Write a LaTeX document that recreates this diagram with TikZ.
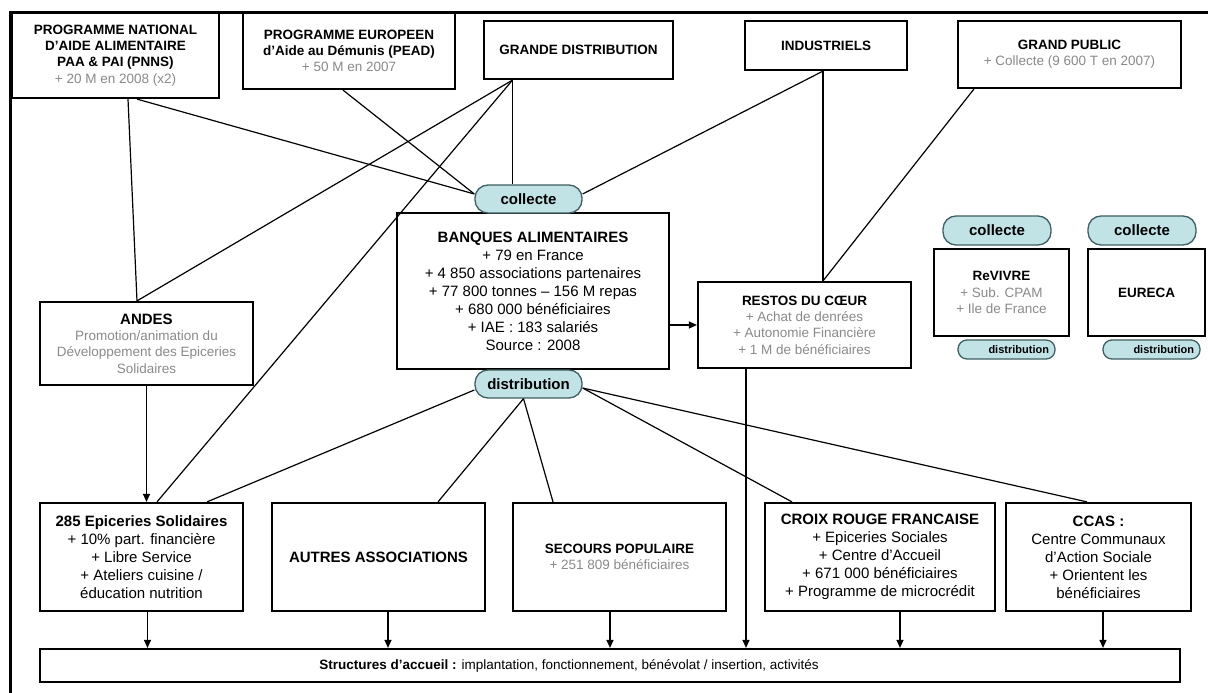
\documentclass[tikz,border=0pt]{standalone}
\usepackage{fontspec}
\setmainfont{Liberation Sans}
\usetikzlibrary{arrows.meta,calc}

\definecolor{pillfill}{HTML}{C2E3E6}
\definecolor{pilldraw}{HTML}{3F5F62}
\definecolor{subgray}{HTML}{8A8A8A}
\newcommand{\gristxt}[1]{\textcolor{subgray}{#1}}

\begin{document}
\begin{tikzpicture}[x=1pt,y=-1pt,
    box/.style={draw=black,line width=2.2pt,fill=white,inner sep=0pt,align=center},
    pill/.style={draw=pilldraw,fill=pillfill,line width=1.3pt,rounded corners=13pt,inner sep=0pt,
        minimum width=107pt,minimum height=28pt,font=\fontsize{15}{18}\selectfont\bfseries},
    minipill/.style={draw=pilldraw,fill=pillfill,line width=1.3pt,rounded corners=9pt,inner sep=0pt,
        minimum width=97pt,minimum height=19pt,text width=85pt,align=right,font=\fontsize{11}{13}\selectfont\bfseries},
    small/.style={font=\fontsize{13.5}{16.3}\selectfont},
    large/.style={font=\fontsize{15}{18}\selectfont},
    link/.style={line width=1.2pt},
    feed/.style={line width=1.2pt,-{Triangle[length=8pt,width=7pt]}}]
    \useasboundingbox (0,0) rectangle (1208,693);
    \fill[white] (0,0) rectangle (1208,693);
    \draw[line width=3pt] (10,693) -- (10,13) -- (1208,13); % frame

    % sources
    \node[box,small,minimum width=207pt,minimum height=85pt] (pnaa) at (115.5,55.5)
        {\textbf{PROGRAMME NATIONAL}\\\textbf{D'AIDE ALIMENTAIRE}\\\textbf{PAA \& PAI (PNNS)}\\\gristxt{+ 20 M en 2008 (x2)}};
    \node[box,small,minimum width=212pt,minimum height=76pt] (pead) at (349,51)
        {\textbf{PROGRAMME EUROPEEN}\\\textbf{d'Aide au Démunis (PEAD)}\\\gristxt{+ 50 M en 2007}};
    \node[box,small,minimum width=189pt,minimum height=58pt] (gdist) at (578.5,50) {\textbf{GRANDE DISTRIBUTION}};
    \node[box,small,minimum width=162pt,minimum height=49pt] (indus) at (826,45.5) {\textbf{INDUSTRIELS}};
    \node[box,small,minimum width=223pt,minimum height=67pt] (gpub) at (1069.5,54.5)
        {\textbf{GRAND PUBLIC}\\\gristxt{+ Collecte (9 600 T en 2007)}};

    % banques alimentaires
    \node[box,large,minimum width=272pt,minimum height=156pt] (banques) at (533,291)
        {\textbf{BANQUES ALIMENTAIRES}\\+ 79 en France\\+ 4 850 associations partenaires\\
         + 77 800 tonnes -- 156 M repas\\+ 680 000 bénéficiaires\\+ IAE : 183 salariés\\Source : 2008};
    \node[pill] (collecte) at (528.5,199) {collecte};
    \node[pill] (distrib) at (528.5,384) {distribution};

    \node[box,small,minimum width=213pt,minimum height=86pt] (restos) at (804.5,325)
        {\textbf{RESTOS DU CŒUR}\\\gristxt{+ Achat de denrées}\\\gristxt{+ Autonomie Financière}\\\gristxt{+ 1 M de bénéficiaires}};

    % revivre / eureca
    \node[pill,minimum width=108pt,minimum height=29pt] (rvcoll) at (997,230.5) {collecte};
    \node[box,small,minimum width=135pt,minimum height=87pt] (revivre) at (1001.5,292.5)
        {\textbf{ReVIVRE}\\\gristxt{+ Sub. CPAM}\\\gristxt{+ Ile de France}};
    \node[minipill] (rvdist) at (1006.5,349.5) {distribution};
    \node[pill,minimum width=108pt,minimum height=29pt] (eucoll) at (1142,230.5) {collecte};
    \node[box,small,minimum width=117pt,minimum height=87pt] (eureca) at (1146.5,292.5) {\textbf{EURECA}};
    \node[minipill] (eudist) at (1151.5,349.5) {distribution};

    \node[box,small,minimum width=213pt,minimum height=83pt] (andes) at (146.5,343.5)
        {{\fontsize{15}{16.5}\selectfont\textbf{ANDES}}\\\gristxt{Promotion/animation du}\\\gristxt{Développement des Epiceries}\\\gristxt{Solidaires}};

    % associations
    \node[box,large,minimum width=203pt,minimum height=108pt] (epic) at (141.5,557)
        {\textbf{285 Epiceries Solidaires}\\+ 10\% part. financière\\+ Libre Service\\+ Ateliers cuisine /\\éducation nutrition};
    \node[box,large,minimum width=213pt,minimum height=108pt] (autres) at (378.5,557) {\textbf{AUTRES ASSOCIATIONS}};
    \node[box,small,minimum width=213pt,minimum height=108pt] (secours) at (619.5,557)
        {\textbf{SECOURS POPULAIRE}\\\gristxt{+ 251 809 bénéficiaires}};
    \node[box,large,minimum width=230pt,minimum height=108pt] (croix) at (880,557)
        {\textbf{CROIX ROUGE FRANCAISE}\\+ Epiceries Sociales\\+ Centre d'Accueil\\+ 671 000 bénéficiaires\\+ Programme de microcrédit};
    \node[box,large,minimum width=185pt,minimum height=108pt] (ccas) at (1098.5,557)
        {\textbf{CCAS :}\\Centre Communaux\\d'Action Sociale\\+ Orientent les\\bénéficiaires};

    \node[box,minimum width=1140pt,minimum height=33pt] (struct) at (610,665.5) {};
    \node[small] (structtxt) at ([xshift=-41pt]struct.center)
        {\textbf{Structures d'accueil :} implantation, fonctionnement, bénévolat / insertion, activités};

    % liens
    \coordinate (gd) at ([xshift=-66pt]gdist.south);
    \coordinate (ind) at ([xshift=-3pt]indus.south);
    \coordinate (gp) at ([xshift=17pt]gpub.south west);
    \draw[link] ([xshift=12.5pt]pnaa.south) -- ([xshift=-9.5pt]andes.north);
    \draw[link] ([xshift=21.5pt]pnaa.south) -- ([yshift=5pt]collecte.west);
    \draw[link] ([xshift=-6pt]pead.south) -- ([yshift=5pt]collecte.west);
    \draw[link] (gd) -- (gd |- collecte.north);
    \draw[link] (gd) -- ([xshift=-9.5pt]andes.north);
    \draw[link] (gd) -- ([xshift=15.5pt]epic.north);
    \draw[link] (ind) -- ([yshift=5pt]collecte.east);
    \draw[link] (ind) -- (ind |- restos.north);
    \draw[link] (gp) -- (ind |- restos.north);
    \draw[link] ([yshift=-6pt]distrib.west) -- ([xshift=65.5pt]epic.north);
    \draw[link] ([xshift=-5pt]distrib.south) -- ([xshift=59.5pt]autres.north);
    \draw[link] ([xshift=-5pt]distrib.south) -- ([xshift=-66.5pt]secours.north);
    \draw[link] ([yshift=-4pt]distrib.east) -- ([xshift=-88pt]croix.north);
    \draw[link] ([yshift=-4pt]distrib.east) -- ([xshift=-11.5pt]ccas.north);
    \draw[feed] (banques.east |- restos.west) -- (restos.west);
    \draw[feed] (andes.south) -- (andes.south |- epic.north);
    \foreach \n/\dx in {epic/6,autres/9.5,secours/-9.5,croix/20,ccas/4.5,restos/-58.5} % vers les structures
        \draw[feed] ([xshift=\dx pt]\n.south) -- ([xshift=\dx pt]\n.south |- struct.north);
\end{tikzpicture}
\end{document}
